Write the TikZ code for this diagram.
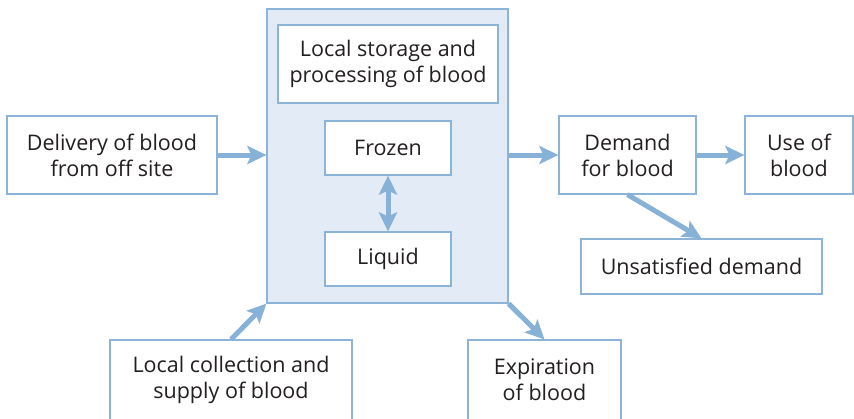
\documentclass[tikz,border=0pt]{standalone}
\usepackage{fontspec}
\setmainfont{Open Sans}
\usetikzlibrary{arrows.meta}
\definecolor{edge}{RGB}{140,180,216}
\definecolor{arr}{RGB}{136,177,215}
\definecolor{panel}{RGB}{227,235,246}
\definecolor{ink}{RGB}{35,31,32}
\tikzset{
  box/.style={draw=edge, line width=1.2pt, fill=white, text=ink, align=center, inner sep=0pt,
    font=\fontsize{21.5}{26}\selectfont},
  tip/.tip={Stealth[length=19pt,width=18pt,inset=4pt]},
  flow/.style={draw=arr, line width=5pt, -tip},
  bflow/.style={draw=arr, line width=5pt, tip-tip}
}
\begin{document}
\begin{tikzpicture}[x=1pt,y=-1pt]
\useasboundingbox (0,0) rectangle (854,418);
\node[box, fill=panel, minimum width=241pt, minimum height=294pt] (big) at (387.5,156) {};
\node[box, minimum width=220pt, minimum height=78pt] (store) at (388,64) {Local storage and\\processing of blood};
\node[box, minimum width=126pt, minimum height=54pt] (frozen) at (388,148) {Frozen};
\node[box, minimum width=126pt, minimum height=54pt] (liquid) at (388,259) {Liquid};
\node[box, minimum width=210pt, minimum height=78pt] (deliv) at (112,155) {Delivery of blood\\from off site};
\node[box, minimum width=137pt, minimum height=78pt] (demand) at (627.5,155) {Demand\\for blood};
\node[box, minimum width=108pt, minimum height=78pt] (use) at (799,155) {Use of\\blood};
\node[box, minimum width=241pt, minimum height=55pt] (unsat) at (701.5,266.5) {Unsatisfied demand};
\node[box, minimum width=242pt, minimum height=80pt] (collect) at (231,380) {Local collection and\\supply of blood};
\node[box, minimum width=153pt, minimum height=80pt] (expire) at (544.5,380) {Expiration\\of blood};
\draw[flow] (deliv.east) -- (big.west |- deliv.east);
\draw[flow] (big.east |- demand.west) -- (demand.west);
\draw[flow] (demand.east) -- (use.west);
\draw[flow] (demand.south) -- (unsat.north);
\draw[flow] (collect.north) -- (big.south west);
\draw[flow] (big.south east) -- (expire.north);
\draw[bflow] (frozen.south) -- (liquid.north);
\end{tikzpicture}
\end{document}
